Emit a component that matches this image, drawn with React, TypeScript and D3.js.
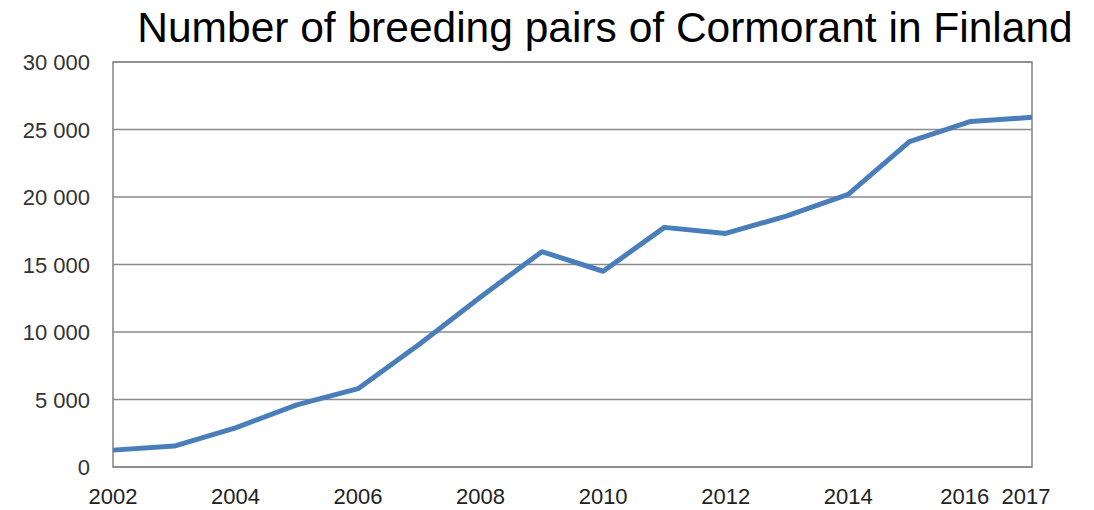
import React from "react";
import * as d3 from "d3";

const years = [2002, 2003, 2004, 2005, 2006, 2007, 2008, 2009, 2010, 2011, 2012, 2013, 2014, 2015, 2016, 2017];
const pairs = [1250, 1550, 2900, 4600, 5800, 9100, 12600, 15950, 14500, 17750, 17300, 18600, 20200, 24100, 25600, 25900];
const yTicks = [0, 5000, 10000, 15000, 20000, 25000, 30000];
const xTickYears = [2002, 2004, 2006, 2008, 2010, 2012, 2014, 2016, 2017];
const title = "Number of breeding pairs of Cormorant in Finland";

const W = 1094;
const H = 510;
const M = { left: 113, right: 1032, top: 62, bottom: 467 };

const fmt = (v: number) => d3.format(",")(v).replace(/,/g, " ");

export default function App() {
  const x = d3.scaleLinear().domain([2002, 2017]).range([M.left, M.right]);
  const y = d3.scaleLinear().domain([0, 30000]).range([M.bottom, M.top]);
  const line = d3
    .line<number>()
    .x((_, i) => x(years[i]))
    .y((d) => y(d));

  return (
    <svg
      width={W}
      height={H}
      style={{ position: "absolute", left: 0, top: 0, background: "#fff" }}
      fontFamily="'Liberation Sans', Arial, sans-serif"
    >
      <text x={605} y={42} textAnchor="middle" fontSize={42.5} fill="#000">
        {title}
      </text>
      {yTicks.map((t) => (
        <g key={t}>
          <line x1={M.left} x2={M.right} y1={y(t)} y2={y(t)} stroke="#8a8a8a" strokeWidth={1.6} />
          <text x={90} y={y(t) + 8} textAnchor="end" fontSize={22} fill="#333">
            {fmt(t)}
          </text>
        </g>
      ))}
      <rect
        x={M.left}
        y={M.top}
        width={M.right - M.left}
        height={M.bottom - M.top}
        fill="none"
        stroke="#8a8a8a"
        strokeWidth={1.6}
      />
      {xTickYears.map((yr) => (
        <text key={yr} x={x(yr) - (yr >= 2016 ? 6 : 0)} y={504} textAnchor="middle" fontSize={22} fill="#222">
          {yr}
        </text>
      ))}
      <path d={line(pairs) || ""} fill="none" stroke="#4a7ebb" strokeWidth={5} strokeLinejoin="round" />
    </svg>
  );
}
